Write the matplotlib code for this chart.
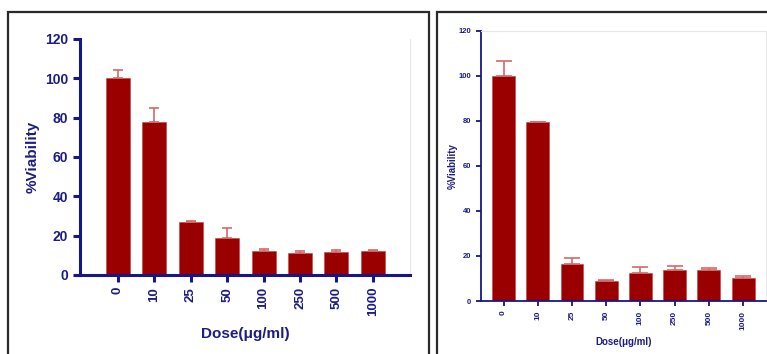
import numpy as np
import matplotlib
matplotlib.use("Agg")
import matplotlib.pyplot as plt
from matplotlib.patches import Rectangle

plt.rcParams["font.family"] = ["Liberation Sans", "DejaVu Sans"]

doses = ["0", "10", "25", "50", "100", "250", "500", "1000"]

# left panel
viab_left = [100, 78, 27, 18.8, 12.2, 11.4, 11.5, 12.4]
err_left = [4, 7, 0.3, 5.2, 0.8, 1.0, 1.0, 0.3]

# right panel
viab_right = [100, 79.3, 16.4, 9.0, 12.3, 13.8, 13.8, 10.1]
err_right = [6.5, 0.3, 2.6, 0.5, 2.7, 1.7, 0.9, 0.9]

yticks = [0, 20, 40, 60, 80, 100, 120]

NAVY = "#16168a"
TEXT = "#1c1c84"
BAR = "#9b0000"
ERR = "#d26a6a"
W, H = 767, 354


def px_axes(fig, x0, x1, ytop, ybot):
    return fig.add_axes([x0 / W, 1 - ybot / H, (x1 - x0) / W, (ybot - ytop) / H])


def draw_panel(ax, values, errs, xlim, width, spine_lw, tick_fs, label_fs,
               tick_len, capsize, xpad, ypad):
    x = np.arange(len(doses))
    ax.bar(x, values, width=width, color=BAR, edgecolor="#c04040",
           linewidth=0.4, zorder=2)
    ax.errorbar(x, values, yerr=[np.zeros(len(errs)), errs], fmt="none",
                ecolor=ERR, elinewidth=1.2, capsize=capsize, capthick=1.2,
                zorder=3)
    ax.set_xlim(*xlim)
    ax.set_ylim(0, 120)
    ax.set_yticks(yticks)
    ax.set_xticks(x)
    ax.set_xticklabels(doses, rotation=90)
    for s in ["left", "bottom"]:
        ax.spines[s].set_color(NAVY)
        ax.spines[s].set_linewidth(spine_lw)
    for s in ["top", "right"]:
        ax.spines[s].set_color("#e8e8e8")
        ax.spines[s].set_linewidth(0.8)
    ax.tick_params(axis="both", direction="out", color=NAVY, width=spine_lw,
                   length=tick_len, labelcolor=TEXT, labelsize=tick_fs)
    for lab in ax.get_xticklabels() + ax.get_yticklabels():
        lab.set_fontweight("bold")
    ax.set_xlabel("Dose(μg/ml)", color=TEXT, fontsize=label_fs,
                  fontweight="bold", labelpad=xpad)
    ax.set_ylabel("%Viability", color=TEXT, fontsize=label_fs,
                  fontweight="bold", labelpad=ypad)


fig = plt.figure(figsize=(W / 100, H / 100), dpi=100)
fig.patch.set_facecolor("white")

# panel frames
fig.add_artist(Rectangle((7.5 / W, -0.05), (429 - 7.5) / W, (H - 11.5) / H + 0.05,
                         transform=fig.transFigure, fill=False,
                         edgecolor="#2a2a2a", linewidth=1.6))
fig.add_artist(Rectangle((437 / W, -0.05), (780 - 437) / W, (H - 11.5) / H + 0.05,
                         transform=fig.transFigure, fill=False,
                         edgecolor="#2a2a2a", linewidth=1.6))

ax1 = px_axes(fig, 80, 410, 39, 275)
draw_panel(ax1, viab_left, err_left, (-1.04, 8.02), 0.66, 2.2, 10, 11,
           5, 3.6, 8, 4)
ax1.tick_params(axis="x", labelsize=9.5)
ax1.spines["top"].set_visible(False)

ax2 = px_axes(fig, 480.7, 766, 30.7, 301)
draw_panel(ax2, viab_right, err_right, (-0.667, 7.67), 0.67, 1.3, 5.5, 7,
           3.5, 6, 5, 0)
ax2.tick_params(axis="x", labelsize=6)

fig.savefig("out.png", dpi=100)
